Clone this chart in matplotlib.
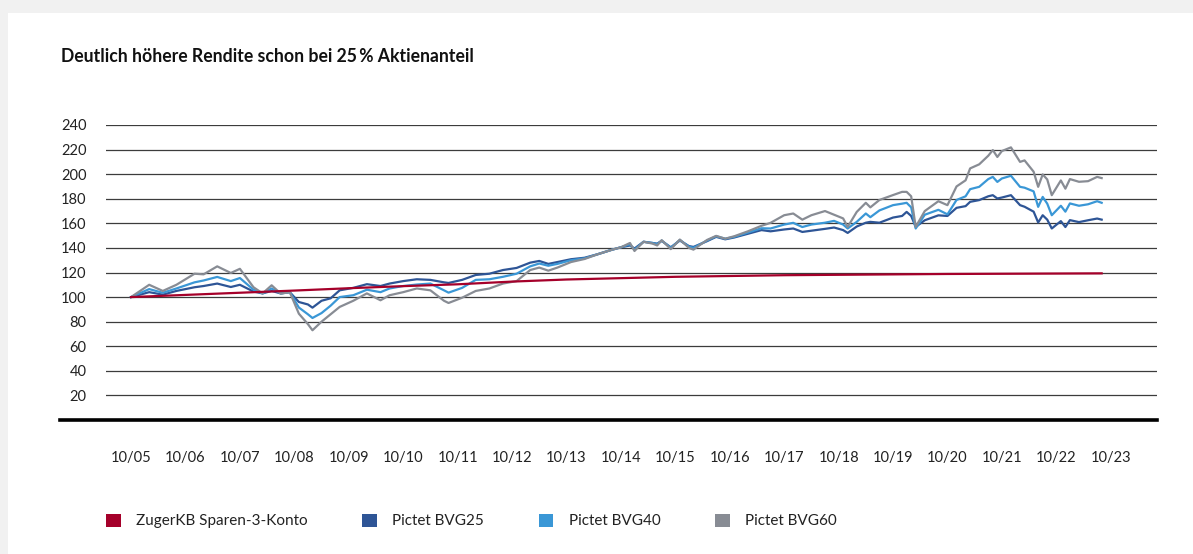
import matplotlib
matplotlib.use("Agg")
import matplotlib.pyplot as plt
from matplotlib.patches import Patch, Rectangle

plt.rcParams['font.family'] = ['Lato', 'DejaVu Sans']

title = "Deutlich höhere Rendite schon bei 25\u2009% Aktienanteil"

fund_dates = [
    '2005-10', '2006-02', '2006-05', '2006-08', '2006-12', '2007-02', '2007-05', '2007-08', '2007-10',
    '2008-01', '2008-03', '2008-05', '2008-07', '2008-09', '2008-11', '2009-01', '2009-02', '2009-04', '2009-06', '2009-08', '2009-11',
    '2010-02', '2010-05', '2010-07', '2010-10', '2011-01', '2011-04', '2011-07', '2011-08', '2011-11',
    '2012-02', '2012-05', '2012-08', '2012-11', '2013-02', '2013-04', '2013-06', '2013-08', '2013-11',
    '2014-02', '2014-05', '2014-08', '2014-10', '2014-12', '2015-01', '2015-03', '2015-05', '2015-06', '2015-07', '2015-09', '2015-11',
    '2016-01', '2016-02', '2016-05', '2016-07', '2016-09', '2016-11',
    '2017-02', '2017-05', '2017-07', '2017-10', '2017-12',
    '2018-02', '2018-04', '2018-07', '2018-09', '2018-11', '2018-12',
    '2019-02', '2019-04', '2019-05', '2019-07', '2019-10', '2019-12',
    '2020-01', '2020-02', '2020-03', '2020-05', '2020-08', '2020-10', '2020-12',
    '2021-02', '2021-03', '2021-05', '2021-07', '2021-08', '2021-09', '2021-10', '2021-12',
    '2022-02', '2022-03', '2022-05', '2022-06', '2022-07', '2022-08', '2022-09', '2022-11', '2022-12',
    '2023-01', '2023-03', '2023-05', '2023-07', '2023-08',
]

bvg25 = [
    100, 104, 102, 105, 108, 109, 111, 108.2, 110,
    104.5, 103, 105, 103, 104, 96, 94, 91.4, 97, 99, 105.5, 107.5,
    110.5, 109, 111, 113, 114.5, 114, 112, 111.5, 114,
    118, 119, 122, 123.7, 128, 129.4, 127, 128.5, 130.8,
    132, 135, 138.5, 140.5, 142, 139.5, 145, 144, 143.5, 145.7, 140.5, 146,
    141.5, 140.8, 145.5, 149, 147, 148.5,
    151.5, 154.5, 153.5, 155, 155.8,
    153, 154, 155.5, 156.6, 154.5, 152.2,
    157.4, 160.5, 161.2, 160.5, 164.7, 166,
    169.3, 166, 157.1, 162.5, 166.5, 166, 172.6,
    174, 177.5, 178.9, 182, 182.9, 180.2, 181, 182.9,
    174.8, 173.5, 169.5, 160.7, 166.6, 163, 155.8, 161.8, 157,
    162.6, 161, 162.5, 163.9, 163,
]

bvg40 = [
    100, 106.5, 103.5, 107, 112, 113.5, 116.4, 113, 115.5,
    106, 103, 107, 103, 104, 91.5, 86, 83, 87, 93, 100, 101.5,
    106, 104, 107, 109, 110.2, 111, 105.5, 103.6, 107.5,
    114, 114.5, 116.5, 119, 125, 127.3, 125.5, 127, 130,
    131.5, 135, 138.5, 140.5, 143, 138.5, 145, 144, 143, 146, 140, 146.5,
    141, 140, 146, 149.5, 147.5, 149,
    152.5, 156, 155.8, 159, 160.4,
    157, 159, 160.5, 162, 159, 155.8,
    161.2, 168, 165, 170.5, 174.8, 176,
    176.7, 173, 155.8, 167, 171, 167.3, 179,
    182, 187.8, 189.7, 196, 197.8, 193.7, 196.5, 198.7,
    189.7, 189, 186, 173.4, 181.5, 176, 166.6, 174.3, 169.5,
    176.2, 174.3, 175.5, 178, 176.7,
]

bvg60 = [
    100, 110, 105, 110, 119, 118.5, 125, 119.6, 123,
    108, 103, 109.6, 102.8, 104, 86.5, 78, 73, 80, 86, 92, 97,
    103, 97.4, 101.5, 104, 107, 105.5, 97, 95.2, 99.5,
    105, 107, 111, 113, 122, 124, 121.5, 124, 128.5,
    131, 135, 138.5, 140.5, 144, 137.5, 145, 143.5, 142, 146.3, 139, 146.8,
    140, 138.6, 146.5, 149.8, 147.5, 149.5,
    153.5, 158, 160.4, 166.6, 168,
    163, 166.6, 170, 167, 164, 157.1,
    169.3, 176.7, 173, 179, 183, 185.6,
    185.6, 182, 157.1, 170, 178, 174.8, 190,
    195, 204.7, 208, 215, 219.6, 214, 218.8, 221.8,
    210, 211.2, 202, 189.7, 199.8, 195.7, 182.9, 194.9, 188.2,
    196, 193.8, 194.3, 197.8, 196.8,
]

konto_dates = ['2005-10', '2008-10', '2009-10', '2010-10', '2011-10', '2012-10',
               '2013-10', '2015-10', '2017-10', '2020-10', '2023-08']
konto = [100, 105.3, 107.2, 108.9, 110.4, 112.6, 114.3, 116.5, 117.8, 118.8, 119.3]

years = list(range(2005, 2024))
tick_labels = ['10/%02d' % (y % 100) for y in years]
y_ticks = list(range(20, 241, 20))

series_names = ['ZugerKB Sparen-3-Konto', 'Pictet BVG25', 'Pictet BVG40', 'Pictet BVG60']
colors = ['#a5002a', '#2e5596', '#3a97d6', '#888c94']


def to_year(s):
    return int(s[:4]) + (int(s[5:]) - 1) / 12


fx = [to_year(d) for d in fund_dates]
kx = [to_year(d) for d in konto_dates]

fig = plt.figure(figsize=(11.93, 5.54), dpi=100, facecolor='#f1f1f1')
fig.add_artist(Rectangle((8 / 1193, 0), 1, (554 - 13) / 554, transform=fig.transFigure,
                         facecolor='white', edgecolor='none', zorder=0))

ax = fig.add_axes([106 / 1193, (554 - 420) / 554, (1157 - 106) / 1193, (420 - 125) / 554])
ax.set_facecolor('white')

ax.plot(fx, bvg25, color=colors[1], lw=1.6, zorder=3)
ax.plot(fx, bvg40, color=colors[2], lw=1.6, zorder=4)
ax.plot(fx, bvg60, color=colors[3], lw=1.6, zorder=5)
ax.plot(kx, konto, color=colors[0], lw=1.6, zorder=6)

ax.set_xlim(2005.29, 2024.60)
ax.set_ylim(0, 240)
for v in y_ticks:
    ax.axhline(v, color='#3c3c3c', lw=0.9, zorder=1)
ax.axhline(0, xmin=-(106 - 60) / (1157 - 106), xmax=1, color='black', lw=2.6,
           clip_on=False, zorder=7)

ax.set_yticks(y_ticks)
ax.set_xticks([y + 0.75 for y in years])
ax.set_xticklabels(tick_labels)
ax.tick_params(axis='y', length=0, pad=14, labelsize=10.5, labelcolor='#222222')
ax.tick_params(axis='x', length=0, pad=22, labelsize=10.5, labelcolor='#222222')
for s in ax.spines.values():
    s.set_visible(False)

fig.text(61 / 1193, (554 - 56) / 554, title, fontsize=12.7, fontweight='bold',
         color='#111111', va='center', ha='left')

handles = [Patch(facecolor=c, edgecolor='none') for c in colors]
fig.legend(handles, series_names, loc='center left', bbox_to_anchor=(106 / 1193, (554 - 521) / 554),
           ncol=4, frameon=False, fontsize=11, handlelength=0.95, handleheight=0.95,
           handletextpad=1.0, columnspacing=3.6, borderpad=0, borderaxespad=0,
           labelcolor='#222222')

fig.savefig('out.png', dpi=100, facecolor=fig.get_facecolor())
